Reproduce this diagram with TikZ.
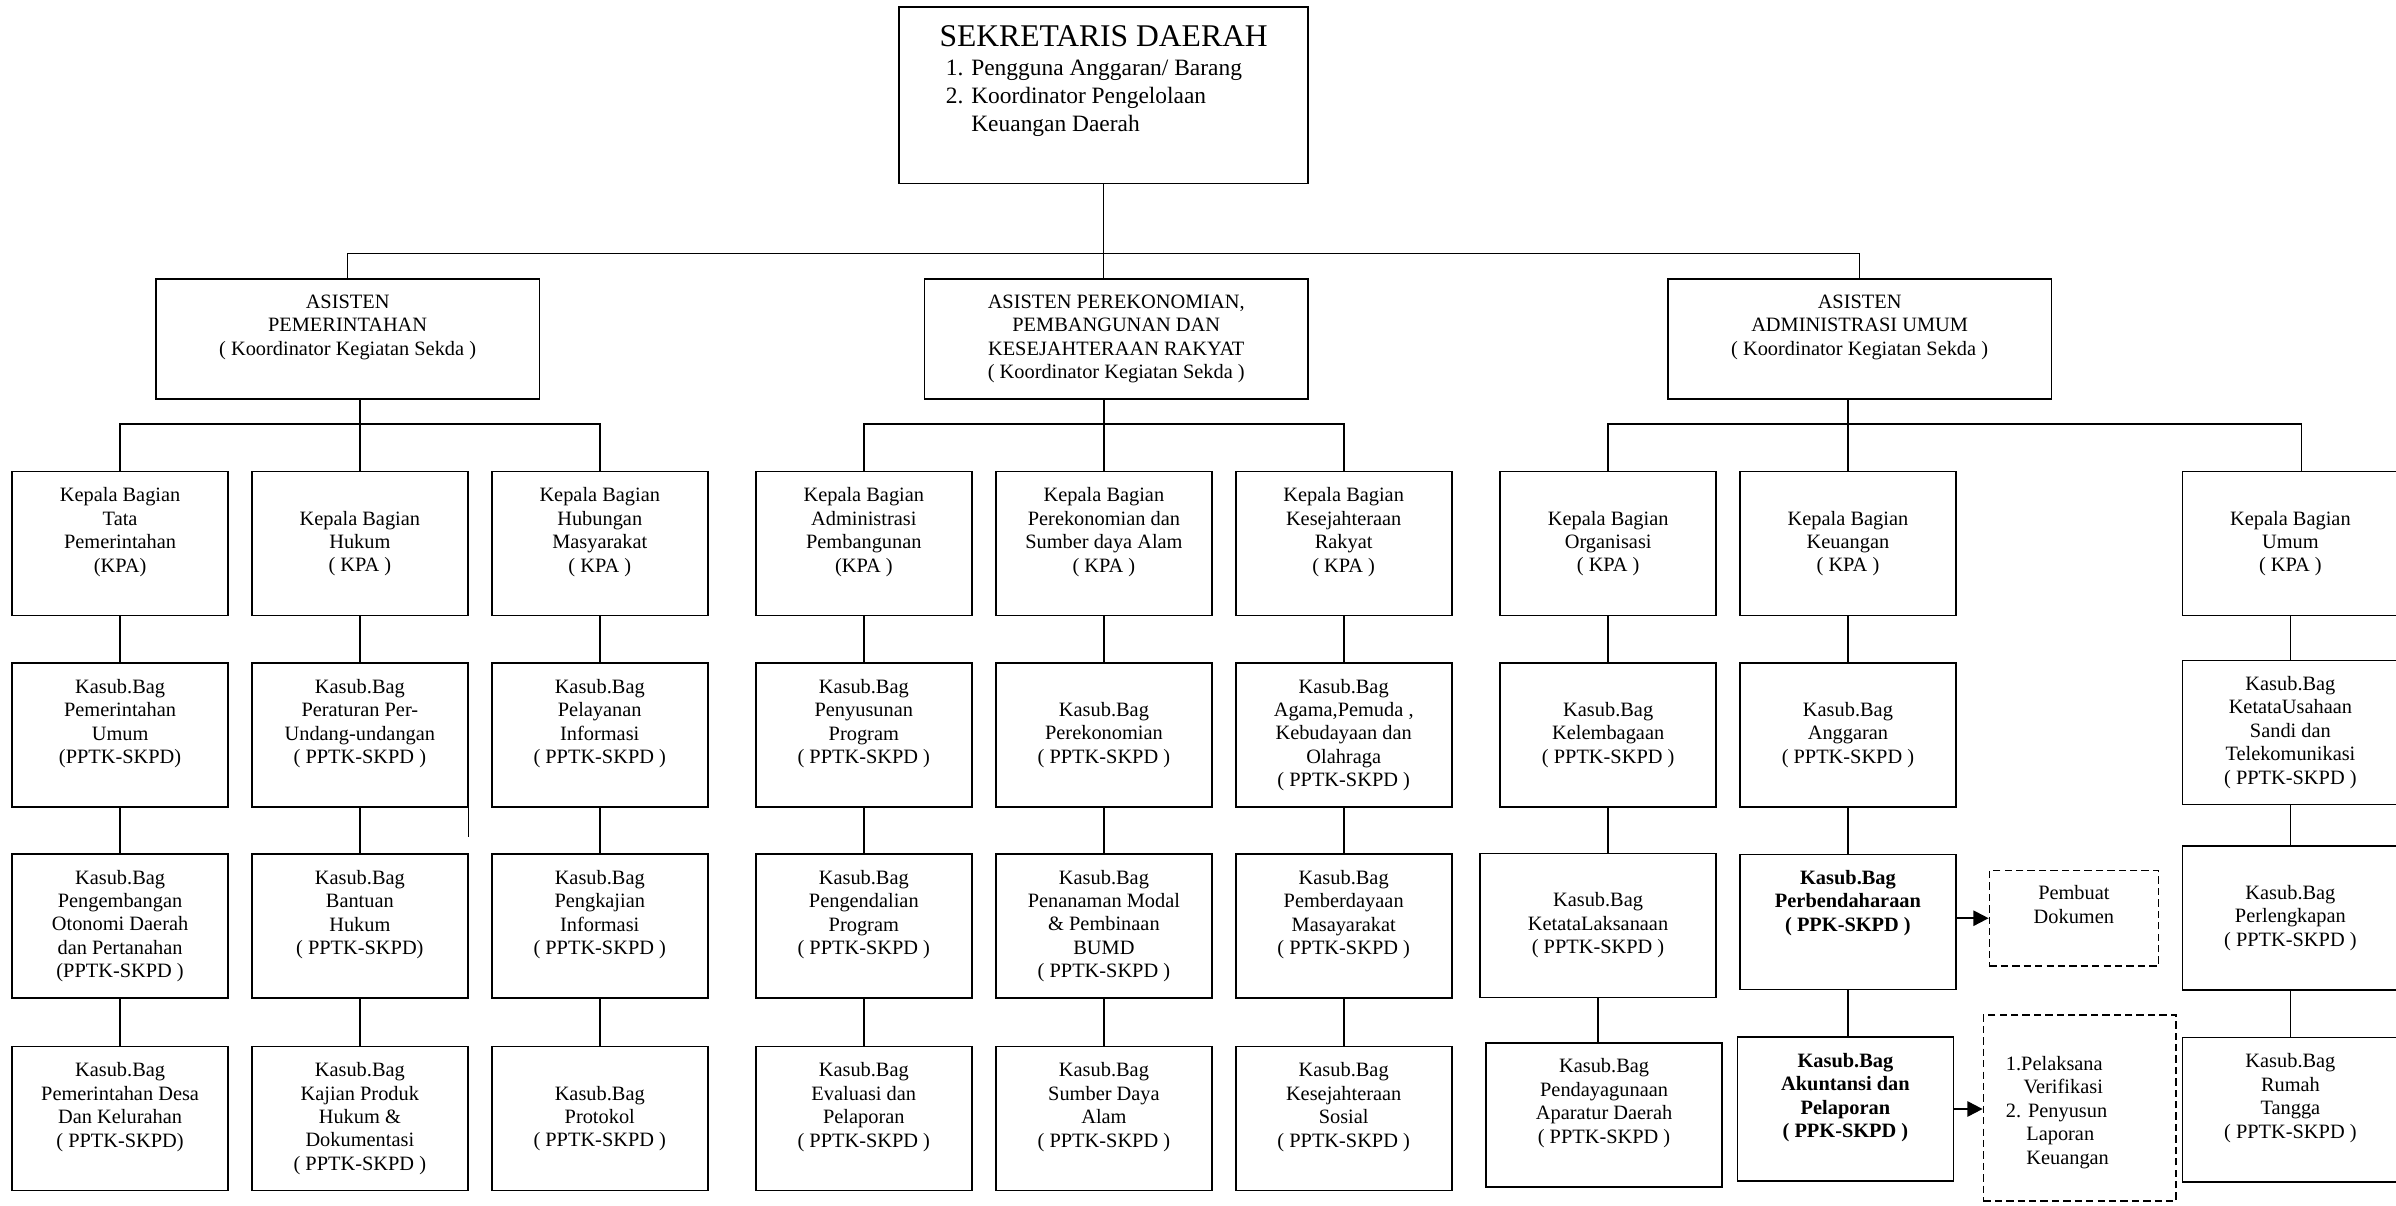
\documentclass[tikz,border=0pt]{standalone}
\usepackage{fontspec}
\setmainfont{Liberation Serif}
\usetikzlibrary{arrows.meta}
\newcommand{\lift}{\\[2pt]\mbox{}}
\newcommand{\liftmore}{\\[9.25pt]\mbox{}}

\begin{document}
\begin{tikzpicture}[
    x=0.75pt, y=-0.75pt,
    line width=0.8pt,
    font={\fontsize{10}{11.5}\selectfont},
    base/.style={draw,rectangle,align=center,inner sep=2pt},
    txt/.style={inner sep=0pt},
    kabag/.style={base,minimum width=106pt,minimum height=70.7pt},
    wide/.style={kabag,minimum width=115.8pt},
    ppk/.style={kabag,font={\fontsize{10}{11.5}\selectfont\bfseries}},
    asisten/.style={base,minimum width=188.25pt,minimum height=58.8pt},
    note/.style={base,dash pattern=on 3.6pt off 2pt},
    pointer/.style={line width=1pt,-{Triangle[length=7.5pt,width=7.5pt]}},
]
    \useasboundingbox (0,0) rectangle (1568,789);

    \node[base,minimum width=200.6pt,minimum height=86.6pt]          (sekda)      at (722.25,62.25) {};
    \node[txt,anchor=base,font={\fontsize{15.5}{18}\selectfont}]     (sekdatitle) at (722.25,30.5)  {SEKRETARIS DAERAH};
    \node[txt,anchor=north west,align=left,font={\fontsize{11.5}{13.7}\selectfont}] (sekdatask) at (618.5,39)
        {1. Pengguna Anggaran/ Barang\\2. Koordinator Pengelolaan\\\hphantom{2. }Keuangan Daerah};

    \node[asisten] (asisten1) at (227.5,221.8) {ASISTEN\\PEMERINTAHAN\\( Koordinator Kegiatan Sekda )\lift};
    \node[asisten] (asisten2) at (730.5,221.8) {ASISTEN PEREKONOMIAN,\\PEMBANGUNAN DAN\\KESEJAHTERAAN RAKYAT\\( Koordinator Kegiatan Sekda )};
    \node[asisten] (asisten3) at (1217,221.8)  {ASISTEN\\ADMINISTRASI UMUM\\( Koordinator Kegiatan Sekda )\lift};

    \node[kabag] (kabag1) at (78.6,355.75)    {Kepala Bagian\\Tata\\Pemerintahan\\(KPA)\lift};
    \node[kabag] (kabag2) at (235.5,355.75)   {Kepala Bagian\\Hukum\\( KPA )};
    \node[kabag] (kabag3) at (392.5,355.75)   {Kepala Bagian\\Hubungan\\Masyarakat\\( KPA )\lift};
    \node[kabag] (kabag4) at (565.3,355.75)   {Kepala Bagian\\Administrasi\\Pembangunan\\(KPA )\lift};
    \node[kabag] (kabag5) at (722.45,355.75)  {Kepala Bagian\\Perekonomian dan\\Sumber daya Alam\\( KPA )\lift};
    \node[kabag] (kabag6) at (879.35,355.75)  {Kepala Bagian\\Kesejahteraan\\Rakyat\\( KPA )\lift};
    \node[kabag] (kabag7) at (1052.45,355.75) {Kepala Bagian\\Organisasi\\( KPA )};
    \node[kabag] (kabag8) at (1209.35,355.75) {Kepala Bagian\\Keuangan\\( KPA )};
    \node[kabag] (kabag9) at (1498.9,355.75)  {Kepala Bagian\\Umum\\( KPA )};

    \node[kabag] (kasubA1) at (78.6,481)     {Kasub.Bag\\Pemerintahan\\Umum\\(PPTK-SKPD)\lift};
    \node[kabag] (kasubA2) at (235.5,481)    {Kasub.Bag\\Peraturan Per-\\Undang-undangan\\( PPTK-SKPD )\lift};
    \node[kabag] (kasubA3) at (392.5,481)    {Kasub.Bag\\Pelayanan\\Informasi\\( PPTK-SKPD )\lift};
    \node[kabag] (kasubA4) at (565.3,481)    {Kasub.Bag\\Penyusunan\\Program\\( PPTK-SKPD )\lift};
    \node[kabag] (kasubA5) at (722.45,481)   {Kasub.Bag\\Perekonomian\\( PPTK-SKPD )};
    \node[kabag] (kasubA6) at (879.35,481)   {Kasub.Bag\\Agama,Pemuda ,\\Kebudayaan dan\\Olahraga\\( PPTK-SKPD )};
    \node[kabag] (kasubA7) at (1052.45,481)  {Kasub.Bag\\Kelembagaan\\( PPTK-SKPD )};
    \node[kabag] (kasubA8) at (1209.35,481)  {Kasub.Bag\\Anggaran\\( PPTK-SKPD )};
    \node[kabag] (kasubA9) at (1498.9,479.35) {Kasub.Bag\\KetataUsahaan\\Sandi dan\\Telekomunikasi\\( PPTK-SKPD )};

    \node[kabag] (kasubB1) at (78.6,606)     {Kasub.Bag\\Pengembangan\\Otonomi Daerah\\dan Pertanahan\\(PPTK-SKPD )};
    \node[kabag] (kasubB2) at (235.5,606)    {Kasub.Bag\\Bantuan\\Hukum\\( PPTK-SKPD)\lift};
    \node[kabag] (kasubB3) at (392.5,606)    {Kasub.Bag\\Pengkajian\\Informasi\\( PPTK-SKPD )\lift};
    \node[kabag] (kasubB4) at (565.3,606)    {Kasub.Bag\\Pengendalian\\Program\\( PPTK-SKPD )\lift};
    \node[kabag] (kasubB5) at (722.45,606)   {Kasub.Bag\\Penanaman Modal\\\& Pembinaan\\BUMD\\( PPTK-SKPD )};
    \node[kabag] (kasubB6) at (879.35,606)   {Kasub.Bag\\Pemberdayaan\\Masayarakat\\( PPTK-SKPD )\lift};
    \node[wide]  (kasubB7) at (1045.8,605.65) {Kasub.Bag\\KetataLaksanaan\\( PPTK-SKPD )};
    \node[ppk,minimum height=66.2pt] (kasubB8) at (1209.35,603.35) {Kasub.Bag\\Perbendaharaan\\( PPK-SKPD )\liftmore};
    \node[kabag] (kasubB9) at (1498.9,600.6) {Kasub.Bag\\Perlengkapan\\( PPTK-SKPD )};

    \node[kabag] (kasubC1) at (78.6,732)     {Kasub.Bag\\Pemerintahan Desa\\Dan Kelurahan\\( PPTK-SKPD)\lift};
    \node[kabag] (kasubC2) at (235.5,732)    {Kasub.Bag\\Kajian Produk\\Hukum \&\\Dokumentasi\\( PPTK-SKPD )};
    \node[kabag] (kasubC3) at (392.5,732)    {Kasub.Bag\\Protokol\\( PPTK-SKPD )};
    \node[kabag] (kasubC4) at (565.3,732)    {Kasub.Bag\\Evaluasi dan\\Pelaporan\\( PPTK-SKPD )\lift};
    \node[kabag] (kasubC5) at (722.45,732)   {Kasub.Bag\\Sumber Daya\\Alam\\( PPTK-SKPD )\lift};
    \node[kabag] (kasubC6) at (879.35,732)   {Kasub.Bag\\Kesejahteraan\\Sosial\\( PPTK-SKPD )\lift};
    \node[wide]  (kasubC7) at (1049.75,729.5) {Kasub.Bag\\Pendayagunaan\\Aparatur Daerah\\( PPTK-SKPD )\lift};
    \node[ppk]   (kasubC8) at (1207.7,725.75) {Kasub.Bag\\Akuntansi dan\\Pelaporan\\( PPK-SKPD )\lift};
    \node[kabag] (kasubC9) at (1498.9,726.2) {Kasub.Bag\\Rumah\\Tangga\\( PPTK-SKPD )\lift};

    \node[note,minimum width=82.9pt,minimum height=46.8pt] (dokumen) at (1357.2,600.9) {Pembuat\\Dokumen\lift};
    \node[note,minimum width=94.5pt,minimum height=91.3pt] (laporan) at (1361,725.15) {};
    \node[txt,anchor=west,align=left] (laporantext) at (1312.2,727.9)
        {1.Pelaksana\\\hspace*{8.7pt}Verifikasi\\2. Penyusun\\\hspace*{10pt}Laporan\\\hspace*{10pt}Keuangan};

    \coordinate (sekdabus) at (0,166);
    \coordinate (pembus)   at (0,277.5);
    \coordinate (kabag9top) at ([xshift=5.5pt]kabag9.north);

    \draw (sekda.south) -- (sekda.south |- asisten2.north);
    \draw (asisten1.north) |- (sekdabus -| asisten3.north) -- (asisten3.north);

    \draw (kabag2.north |- asisten1.south) -- (kabag2.north);
    \draw (kabag1.north) |- (pembus -| kabag3.north) -- (kabag3.north);
    \draw (kabag5.north |- asisten2.south) -- (kabag5.north);
    \draw (kabag4.north) |- (pembus -| kabag6.north) -- (kabag6.north);
    \draw (kabag8.north |- asisten3.south) -- (kabag8.north);
    \draw (kabag7.north) |- (pembus -| kabag9top) -- (kabag9top);

    \draw (kabag1.south) -- (kabag1.south |- kasubA1.north) (kasubA1.south) -- (kasubA1.south |- kasubB1.north) (kasubB1.south) -- (kasubB1.south |- kasubC1.north);
    \draw (kabag2.south) -- (kabag2.south |- kasubA2.north) (kasubA2.south) -- (kasubA2.south |- kasubB2.north) (kasubB2.south) -- (kasubB2.south |- kasubC2.north);
    \draw (kabag3.south) -- (kabag3.south |- kasubA3.north) (kasubA3.south) -- (kasubA3.south |- kasubB3.north) (kasubB3.south) -- (kasubB3.south |- kasubC3.north);
    \draw (kabag4.south) -- (kabag4.south |- kasubA4.north) (kasubA4.south) -- (kasubA4.south |- kasubB4.north) (kasubB4.south) -- (kasubB4.south |- kasubC4.north);
    \draw (kabag5.south) -- (kabag5.south |- kasubA5.north) (kasubA5.south) -- (kasubA5.south |- kasubB5.north) (kasubB5.south) -- (kasubB5.south |- kasubC5.north);
    \draw (kabag6.south) -- (kabag6.south |- kasubA6.north) (kasubA6.south) -- (kasubA6.south |- kasubB6.north) (kasubB6.south) -- (kasubB6.south |- kasubC6.north);
    \draw (kabag7.south) -- (kabag7.south |- kasubA7.north) (kasubA7.south) -- (kasubA7.south |- kasubB7.north) (kasubB7.south) -- (kasubB7.south |- kasubC7.north);
    \draw (kabag8.south) -- (kabag8.south |- kasubA8.north) (kasubA8.south) -- (kasubA8.south |- kasubB8.north) (kasubB8.south) -- (kasubB8.south |- kasubC8.north);
    \draw (kabag9.south) -- (kabag9.south |- kasubA9.north) (kasubA9.south) -- (kasubA9.south |- kasubB9.north) (kasubB9.south) -- (kasubB9.south |- kasubC9.north);
    \draw (kasubA2.south east) -- ++(0,19);

    \draw[pointer] (kasubB8.east |- dokumen.west) -- (dokumen.west);
    \draw[pointer] (kasubC8.east) -- (laporan.west |- kasubC8.east);

\end{tikzpicture}
\end{document}
